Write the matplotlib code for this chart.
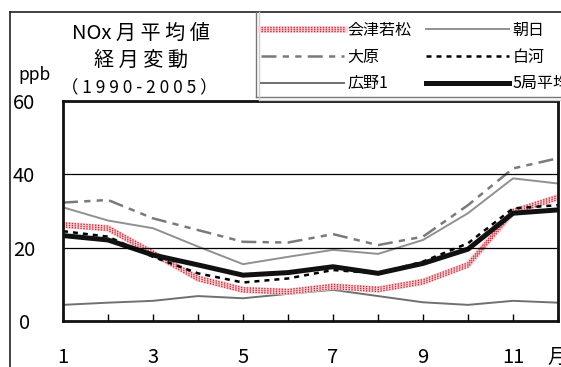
import matplotlib
matplotlib.use("Agg")
import matplotlib.pyplot as plt
import matplotlib.patheffects as pe
from matplotlib.lines import Line2D

plt.rcParams['font.family'] = ['Noto Sans CJK JP', 'DejaVu Sans']

months = list(range(1, 13))
aizu = [26.2, 25.3, 18.5, 11.6, 8.5, 8.0, 9.4, 8.6, 10.7, 15.3, 29.8, 33.7]
asahi = [31.0, 27.4, 25.3, 20.3, 15.5, 17.5, 19.4, 18.3, 22.1, 29.4, 38.9, 37.5]
ohara = [32.3, 33.0, 28.0, 24.8, 21.6, 21.4, 23.7, 20.7, 23.0, 31.6, 41.6, 44.4]
shirakawa = [24.5, 23.0, 17.5, 13.0, 10.5, 11.6, 13.9, 13.0, 16.2, 21.2, 30.7, 31.6]
hirono = [4.4, 5.0, 5.5, 6.8, 6.2, 7.4, 8.5, 6.8, 5.1, 4.4, 5.5, 5.0]
avg5 = [23.3, 22.1, 18.0, 15.3, 12.5, 13.2, 14.8, 13.0, 15.7, 19.6, 29.4, 30.3]

xlabels = ['1', '', '3', '', '5', '', '7', '', '9', '', '11', '月']
yticks = [0, 20, 40, 60]

W, H = 561, 367
fig = plt.figure(figsize=(W / 100, H / 100), dpi=100)
ax = fig.add_axes([63 / W, 1 - 321 / H, (558 - 63) / W, (321 - 101) / H])

# red dotted texture: three offset rows of dots over a pale pink band
dot_fx = [pe.Stroke(offset=(0, 1.5)), pe.Stroke(offset=(0, -1.5)), pe.Normal()]
band_kw = dict(color='#f6d3d6', lw=4.8, solid_joinstyle='round')
dots_kw = dict(color='#c8303f', lw=1.0, dashes=(1, 1.1), path_effects=dot_fx)

ax.plot(months, hirono, color='#707070', lw=1.4)
ax.plot(months, aizu, **band_kw)
ax.plot(months, aizu, **dots_kw)
ax.plot(months, asahi, color='#909090', lw=1.4)
ax.plot(months, ohara, color='#7a7a7a', lw=1.8, dashes=(6, 2.5, 2.5, 2.5, 2.5, 2.5))
ax.plot(months, shirakawa, color='black', lw=1.8, dashes=(2, 2))
ax.plot(months, avg5, color='#111111', lw=3.6, solid_joinstyle='round')

ax.set_xlim(1, 12)
ax.set_ylim(0, 60)
ax.set_xticks(months)
ax.set_xticklabels(xlabels)
ax.set_yticks(yticks)
ax.tick_params(axis='x', direction='in', length=5, width=1, pad=19, labelsize=14.5)
ax.tick_params(axis='y', length=0, pad=28, labelsize=14.5)
for lbl in ax.get_yticklabels():
    lbl.set_horizontalalignment('center')
for v in (20, 40):
    ax.axhline(v, color='black', lw=0.9)
for s in ax.spines.values():
    s.set_linewidth(2)
    s.set_color('#111111')

# titles
fig.text(141 / W, 1 - 33 / H, 'NOx 月 平 均 値', ha='center', va='center', fontsize=14.5)
fig.text(141 / W, 1 - 60 / H, '経 月 変 動', ha='center', va='center', fontsize=14.5)
fig.text(139 / W, 1 - 88 / H, '（ 1 9 9 0 - 2 0 0 5 ）', ha='center', va='center', fontsize=12.5)
fig.text(35 / W, 1 - 75 / H, 'ppb', ha='center', va='center', fontsize=12.5)

# outer frame and legend box edges
fig.add_artist(Line2D([10 / W, 10 / W], [0, 1 - 12 / H], color='#222222', lw=1.2))
fig.add_artist(Line2D([10 / W, 1], [1 - 12 / H, 1 - 12 / H], color='#222222', lw=1.2))
fig.add_artist(Line2D([256 / W, 256 / W], [1 - 97 / H, 1 - 12 / H], color='#777777', lw=1))
fig.add_artist(Line2D([256 / W, 1], [1 - 97 / H, 1 - 97 / H], color='#777777', lw=1))
fig.add_artist(Line2D([258.5 / W, 258.5 / W], [1 - 99.5 / H, 1 - 12 / H], color='#cccccc', lw=1))
fig.add_artist(Line2D([258.5 / W, 1], [1 - 99.5 / H, 1 - 99.5 / H], color='#cccccc', lw=1))

h_aizu = (Line2D([], [], **band_kw), Line2D([], [], **dots_kw))
h_asahi = Line2D([], [], color='#909090', lw=1.4)
h_ohara = Line2D([], [], color='#7a7a7a', lw=1.8, dashes=(6, 2.5, 2.5, 2.5, 2.5, 2.5))
h_shira = Line2D([], [], color='black', lw=1.8, dashes=(2, 2))
h_hirono = Line2D([], [], color='#707070', lw=1.4)
h_avg = Line2D([], [], color='#111111', lw=3.6)
handles = [h_aizu, h_ohara, h_hirono, h_asahi, h_shira, h_avg]
labels = ['会津若松', '大原', '広野1', '朝日', '白河', '5局平均']
fig.legend(handles, labels, ncol=2, loc='upper left',
           bbox_to_anchor=(261 / W, 1 - 22 / H), bbox_transform=fig.transFigure,
           frameon=False, fontsize=11.5, handlelength=5.2, handletextpad=0.2,
           columnspacing=0.95, labelspacing=0.6, borderpad=0, borderaxespad=0)

fig.savefig('out.png', dpi=100)
